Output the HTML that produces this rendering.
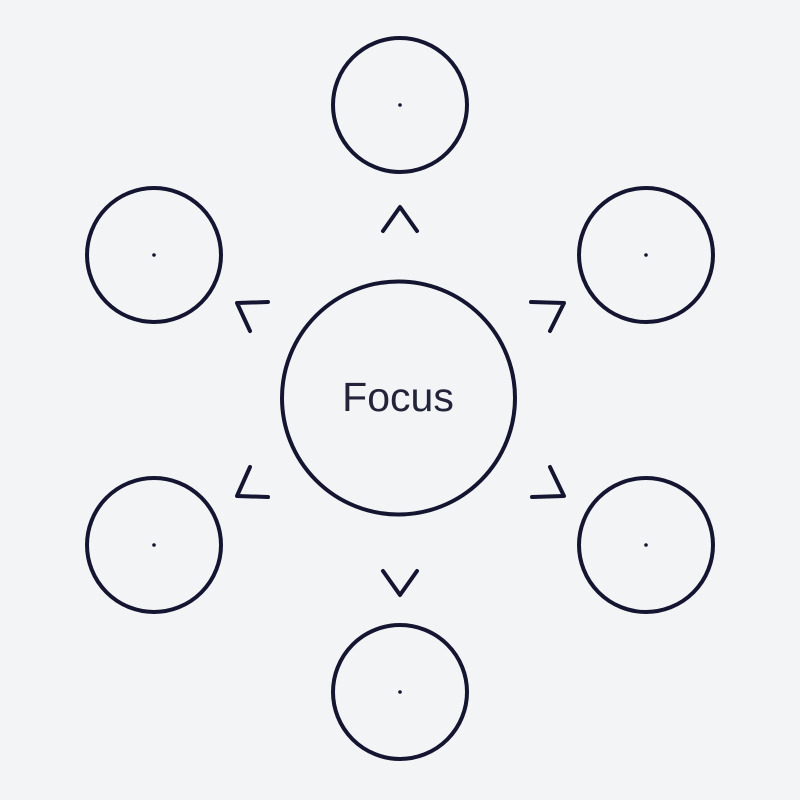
<!DOCTYPE html>
<html><head><style>
html,body{margin:0;padding:0;background:#f3f4f6;}
svg{display:block}
</style></head><body>
<svg width="800" height="800" viewBox="0 0 800 800" xmlns="http://www.w3.org/2000/svg">
<rect width="800" height="800" fill="#f3f4f6"/>
<g fill="none" stroke="#141530" stroke-width="4" stroke-linecap="round" stroke-linejoin="round">
<circle cx="398.5" cy="398" r="116.5"/>
<circle cx="400" cy="105" r="67"/>
<circle cx="154" cy="255" r="67"/>
<circle cx="646" cy="255" r="67"/>
<circle cx="154" cy="545" r="67"/>
<circle cx="646" cy="545" r="67"/>
<circle cx="400" cy="692" r="67"/>
<polyline points="383,231 400,207 417,231"/>
<polyline points="383,571 400,595 417,571"/>
<polyline points="268,302 237,303 250,331"/>
<polyline points="531,302 564,303 550,331"/>
<polyline points="250,467 237,496 268,497"/>
<polyline points="550,467 564,496 532,497"/>
</g>
<g fill="#141530">
<circle cx="400" cy="105" r="1.8"/>
<circle cx="154" cy="255" r="1.8"/>
<circle cx="646" cy="255" r="1.8"/>
<circle cx="154" cy="545" r="1.8"/>
<circle cx="646" cy="545" r="1.8"/>
<circle cx="400" cy="692" r="1.8"/>
</g>
<text x="398" y="411" text-anchor="middle" font-family="Liberation Sans, sans-serif" font-size="41" fill="#23243a">Focus</text>
</svg>
</body></html>
